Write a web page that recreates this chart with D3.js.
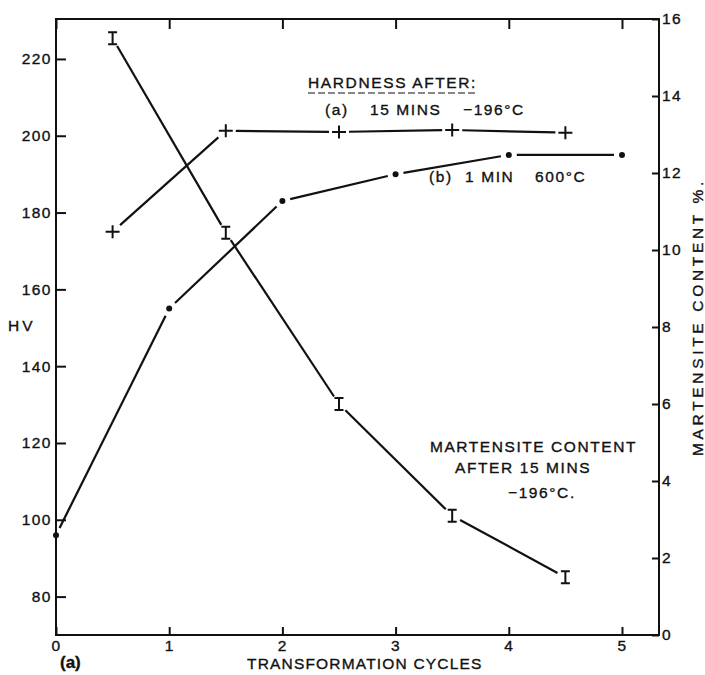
<!DOCTYPE html>
<html>
<head>
<meta charset="UTF-8">
<script src="https://d3js.org/d3.v7.min.js"></script>
<title>Hardness and martensite content vs transformation cycles</title>
<style>
  body { margin: 0; background: #fff; }
  text { font-family: "Liberation Sans", Arial, sans-serif; fill: #111; stroke: #111; stroke-width: 0.35px; }
  .axis text { font-size: 15.5px; letter-spacing: 1.5px; }
  .axis .domain { display: none; }
  .axis .tick line { stroke: #111; stroke-width: 2; }
  .note { font-size: 15.5px; letter-spacing: 1.6px; }
</style>
</head>
<body>
<div id="chart"></div>
<script>
// data
var cycles = [0, 1, 2, 3, 4, 5]
var cyclesHalf = [0.5, 1.5, 2.5, 3.5, 4.5]
var hardnessA = [175, 201.3, 201, 201.5, 200.8]      // (a) 15 mins -196C, HV
var hardnessB = [96, 155, 183, 190, 195, 195]        // (b) 1 min 600C, HV
var martensite = [15.5, 10.45, 6.0, 3.1, 1.5]        // martensite content %
var hvTicks = [80, 100, 120, 140, 160, 180, 200, 220]
var pctTicks = [0, 2, 4, 6, 8, 10, 12, 14, 16]

var width = 705, height = 675
var margin = {left: 56, top: 19, right: 46, bottom: 40}
var x0 = margin.left, x1 = width - margin.right
var y0 = height - margin.bottom, y1 = margin.top

var x = d3.scaleLinear().domain([0, 5.327]).range([x0, x1])
var yHV = d3.scaleLinear().domain([70, 230.4]).range([y0, y1])
var yPct = d3.scaleLinear().domain([0, 16]).range([y0, y1])

var svg = d3.select('#chart').append('svg')
  .attr('width', width)
  .attr('height', height)

// axes, ticks pointing inward
svg.append('g').attr('class', 'axis')
  .attr('transform', 'translate(0,' + y0 + ')')
  .call(d3.axisBottom(x).tickValues(cycles).tickFormat(d3.format('d'))
    .tickSizeInner(-8).tickSizeOuter(0).tickPadding(5))
svg.append('g').attr('class', 'axis')
  .attr('transform', 'translate(0,' + y1 + ')')
  .call(d3.axisTop(x).tickValues(cycles).tickFormat('')
    .tickSizeInner(-10).tickSizeOuter(0))
svg.append('g').attr('class', 'axis')
  .attr('transform', 'translate(' + x0 + ',0)')
  .call(d3.axisLeft(yHV).tickValues(hvTicks).tickFormat(d3.format('d'))
    .tickSizeInner(-10).tickSizeOuter(0).tickPadding(4))
svg.append('g').attr('class', 'axis')
  .attr('transform', 'translate(' + x1 + ',0)')
  .call(d3.axisRight(yPct).tickValues(pctTicks).tickFormat(d3.format('d'))
    .tickSizeInner(-7).tickSizeOuter(0).tickPadding(3))

// frame
svg.append('rect')
  .attr('x', x0).attr('y', y1)
  .attr('width', x1 - x0).attr('height', y0 - y1)
  .attr('fill', 'none').attr('stroke', '#111').attr('stroke-width', 2)

// lines drawn segment by segment, stopping short of the markers
function segments(xs, ys, yScale, gap) {
  var pts = xs.map(function(d, i) { return [x(d), yScale(ys[i])] })
  var out = []
  for (var i = 0; i < pts.length - 1; i++) {
    var a = pts[i], b = pts[i + 1]
    var dx = b[0] - a[0], dy = b[1] - a[1]
    var len = Math.sqrt(dx * dx + dy * dy)
    var ux = dx / len, uy = dy / len
    out.push([[a[0] + ux * gap, a[1] + uy * gap], [b[0] - ux * gap, b[1] - uy * gap]])
  }
  return out
}
var seg = d3.line()
function drawSeries(xs, ys, yScale, gap) {
  svg.append('g').selectAll('path')
    .data(segments(xs, ys, yScale, gap))
    .join('path')
    .attr('d', seg)
    .attr('fill', 'none').attr('stroke', '#111').attr('stroke-width', 2.2)
}
drawSeries(cyclesHalf, hardnessA, yHV, 10)
drawSeries(cycles, hardnessB, yHV, 8)
drawSeries(cyclesHalf, martensite, yPct, 9)

// markers
svg.append('g').selectAll('path')
  .data(hardnessA)
  .join('path')
  .attr('transform', function(d, i) { return 'translate(' + x(cyclesHalf[i]) + ',' + yHV(d) + ')' })
  .attr('d', 'M-7,0H7M0,-6.5V6.5')
  .attr('stroke', '#111').attr('stroke-width', 2)

svg.append('g').selectAll('circle')
  .data(hardnessB)
  .join('circle')
  .attr('cx', function(d, i) { return x(cycles[i]) })
  .attr('cy', function(d) { return yHV(d) })
  .attr('r', 3)
  .attr('fill', '#111')

svg.append('g').selectAll('path')
  .data(martensite)
  .join('path')
  .attr('transform', function(d, i) { return 'translate(' + x(cyclesHalf[i]) + ',' + yPct(d) + ')' })
  .attr('d', 'M-4.5,-6H4.5M0,-6V6M-4.5,6H4.5')
  .attr('fill', 'none').attr('stroke', '#111').attr('stroke-width', 2)

// axis titles
svg.append('text').attr('class', 'note')
  .attr('x', 8).attr('y', 331).style('letter-spacing', '3px')
  .text('HV')
svg.append('text').attr('class', 'note')
  .attr('x', 247).attr('y', 669)
  .attr('textLength', 236).attr('lengthAdjust', 'spacing')
  .text('TRANSFORMATION    CYCLES')
svg.append('text')
  .attr('x', 60).attr('y', 668)
  .style('font-size', '17px').style('font-weight', 'bold')
  .text('(a)')
svg.append('text').attr('class', 'note')
  .attr('transform', 'translate(703,456) rotate(-90)')
  .attr('textLength', 276).attr('lengthAdjust', 'spacing')
  .text('MARTENSITE  CONTENT  %.')

// annotations
svg.append('text').attr('class', 'note')
  .attr('x', 308).attr('y', 88)
  .attr('textLength', 169).attr('lengthAdjust', 'spacing')
  .text('HARDNESS AFTER:')
svg.append('line')
  .attr('x1', 308).attr('x2', 476).attr('y1', 93).attr('y2', 93)
  .attr('stroke', '#111').attr('stroke-width', 1.2).attr('stroke-dasharray', '7,3')
svg.append('text').attr('class', 'note').attr('x', 325).attr('y', 115).text('(a)')
svg.append('text').attr('class', 'note').attr('x', 370).attr('y', 115).text('15 MINS')
svg.append('text').attr('class', 'note').attr('x', 463).attr('y', 115).text('\u2212196\u00b0C')
svg.append('text').attr('class', 'note').attr('x', 429).attr('y', 182).text('(b)')
svg.append('text').attr('class', 'note').attr('x', 465).attr('y', 182).text('1 MIN')
svg.append('text').attr('class', 'note').attr('x', 535).attr('y', 182).text('600\u00b0C')
svg.append('text').attr('class', 'note')
  .attr('x', 430).attr('y', 452)
  .attr('textLength', 207).attr('lengthAdjust', 'spacing')
  .text('MARTENSITE  CONTENT')
svg.append('text').attr('class', 'note').attr('x', 455).attr('y', 473).text('AFTER  15 MINS')
svg.append('text').attr('class', 'note').attr('x', 508).attr('y', 498).text('\u2212196\u00b0C.')
</script>
</body>
</html>
